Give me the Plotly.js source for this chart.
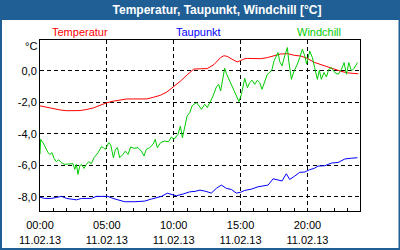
<!DOCTYPE html>
<html>
<head>
<meta charset="utf-8">
<script src="https://cdn.plot.ly/plotly-3.0.1.min.js"></script>
<style>html,body{margin:0;padding:0;background:#fff;}#chart{width:400px;height:250px;}</style>
</head>
<body>
<div id="chart"></div>
<script>
// ---- data (hours after 11.02.13 00:00, values in °C) ----
const tempHours = [0.0,0.5,1.0,1.5,2.0,2.5,3.0,3.5,4.0,4.5,5.0,5.5,6.0,6.5,7.0,7.5,8.0,8.5,9.0,9.5,10.0,10.5,11.0,11.5,12.0,12.5,13.0,13.5,13.75,14.0,14.5,14.75,15.0,15.25,15.5,16.0,16.5,17.0,17.5,18.0,18.5,19.0,19.5,20.0,20.5,21.0,21.5,22.0,22.5,23.0,23.5,23.8];
const tempValues = [-2.22,-2.32,-2.40,-2.48,-2.53,-2.53,-2.52,-2.45,-2.35,-2.18,-2.02,-1.92,-1.85,-1.78,-1.78,-1.78,-1.78,-1.67,-1.55,-1.33,-1.02,-0.65,-0.25,0.12,0.14,0.15,0.40,0.85,0.97,0.93,0.68,0.58,0.66,0.76,0.80,0.80,0.78,0.85,0.95,1.08,1.10,1.00,0.95,0.80,0.55,0.40,0.28,0.12,-0.02,-0.12,-0.18,-0.18];

const dewHours = [0.0,0.35,0.85,1.35,1.6,2.0,2.4,2.72,3.1,3.5,3.84,4.21,5.08,5.46,5.96,6.33,7.08,7.83,8.33,9.08,9.52,9.83,10.2,10.7,11.2,11.6,11.96,12.4,12.81,13.19,13.56,13.94,14.31,14.68,15.0,15.31,15.8,16.3,16.8,17.06,17.43,17.68,17.95,18.1,18.42,18.67,19.05,19.42,19.8,20.17,20.5,20.8,21.3,21.8,22.3,22.8,23.3,23.74];
const dewValues = [-8.03,-8.11,-8.11,-8.03,-7.98,-8.11,-8.15,-8.20,-8.11,-8.13,-8.11,-7.98,-7.98,-8.11,-8.22,-8.32,-8.32,-8.28,-8.15,-7.98,-7.78,-7.86,-7.94,-7.83,-7.69,-7.66,-7.58,-7.66,-7.77,-7.47,-7.26,-7.47,-7.54,-7.77,-7.72,-7.60,-7.52,-7.37,-7.30,-7.26,-6.86,-6.92,-6.97,-7.00,-6.54,-6.90,-6.69,-6.45,-6.43,-6.28,-6.20,-6.05,-6.03,-5.86,-5.82,-5.60,-5.55,-5.52];

const windHours = [0.0,0.05,0.3,0.45,0.6,0.75,0.9,1.05,1.22,1.4,1.6,1.85,2.22,2.47,2.6,2.72,2.84,2.97,3.09,3.29,3.47,3.64,3.84,4.04,4.34,4.59,4.74,4.89,5.14,5.29,5.49,5.64,5.79,5.96,6.2,6.38,6.58,6.78,7.03,7.33,7.58,7.78,7.95,8.2,8.45,8.62,8.77,9.02,9.32,9.62,9.82,10.02,10.32,10.5,10.65,10.82,11.0,11.2,11.37,11.52,11.7,11.95,12.07,12.32,12.51,12.76,12.94,13.19,13.36,13.51,13.69,13.81,13.94,14.18,14.44,14.69,14.88,15.06,15.18,15.31,15.51,15.68,15.86,16.06,16.26,16.43,16.6,16.8,17.0,17.18,17.35,17.5,17.68,17.8,17.93,18.1,18.3,18.5,18.6,18.8,19.0,19.25,19.42,19.62,19.8,19.94,20.17,20.37,20.54,20.74,20.89,21.04,21.24,21.42,21.59,21.79,22.04,22.3,22.54,22.74,22.92,23.09,23.29,23.49,23.74];
const windValues = [-5.30,-4.35,-4.67,-4.99,-5.20,-5.31,-5.20,-5.56,-5.77,-5.65,-5.84,-5.94,-5.94,-5.90,-6.26,-5.94,-6.58,-6.05,-5.94,-6.20,-5.94,-5.77,-5.90,-5.52,-5.20,-4.82,-4.88,-4.99,-4.56,-4.71,-5.52,-4.99,-4.88,-5.52,-5.31,-5.10,-5.31,-4.84,-4.92,-4.88,-5.10,-5.41,-4.99,-4.88,-4.67,-4.35,-4.88,-4.56,-4.46,-4.50,-4.20,-4.35,-4.03,-3.50,-4.25,-3.61,-2.87,-2.65,-2.23,-2.12,-2.02,-2.29,-2.44,-2.12,-2.33,-1.91,-1.59,-1.02,-0.85,-1.27,-0.32,0.17,-0.17,-0.64,-1.06,-1.59,-1.95,-1.49,-1.06,-0.47,-1.06,-0.74,-0.59,-0.85,-0.59,-0.74,-1.17,-0.64,-0.21,-0.10,0.10,0.64,0.96,1.17,0.59,0.32,0.96,1.49,0.64,-0.53,0.00,0.43,0.85,1.38,0.96,0.43,1.27,0.85,0.21,-0.53,0.04,-0.53,-0.10,-0.38,0.10,0.21,-0.10,-0.21,0.10,0.53,-0.21,0.53,0.00,0.17,0.53];

const seriesNames = ["Temperatur","Taupunkt","Windchill"];
const xTickHours = [0,5,10,15,20];
const xTickLabels = ["00:00<br>11.02.13","05:00<br>11.02.13","10:00<br>11.02.13","15:00<br>11.02.13","20:00<br>11.02.13"];
const yTickValues = [0,-2,-4,-6,-8];
const yTickLabels = ["0,0","-2,0","-4,0","-6,0","-8,0"];
const chartTitle = "Temperatur, Taupunkt, Windchill [°C]";
const unitLabel = "°C";

// ---- layout helpers (pixel -> paper) ----
const L=40, R=360, T=40, B=211;
const px = x => (x-L)/(R-L);
const py = y => (B-y)/(B-T);
const FONT = "Liberation Sans, Arial, sans-serif";
const colors = ["#ff0000","#0000ff","#00cc00"];

const traces = [
  {x: tempHours, y: tempValues, name: seriesNames[0]},
  {x: dewHours, y: dewValues, name: seriesNames[1]},
  {x: windHours, y: windValues, name: seriesNames[2]}
].map((t,i)=>Object.assign(t,{type:'scatter',mode:'lines',line:{color:colors[i],width:1},hoverinfo:'skip'}));

const labelX = [80.3,198.7,318.8];
const annotations = seriesNames.map((n,i)=>({
  text:n, xref:'paper', yref:'paper', x:px(labelX[i]), y:py(32),
  xanchor:'center', yanchor:'middle', showarrow:false,
  font:{family:FONT,size:11,color:colors[i]}
}));
annotations.push({text:unitLabel, xref:'paper', yref:'paper', x:px(30.5), y:py(46.5),
  xanchor:'center', yanchor:'middle', showarrow:false, font:{family:FONT,size:11,color:'#000'}});

const layout = {
  width:400, height:250,
  margin:{l:L, r:400-R, t:T, b:250-B, pad:0},
  paper_bgcolor:'#1f5f96', plot_bgcolor:'#ffffff',
  showlegend:false,
  title:{text:chartTitle, font:{family:FONT,size:12,color:'#ffffff',weight:'bold'},
         xref:'container', yref:'container', x:217/400, y:1-10/250, xanchor:'center', yanchor:'middle'},
  xaxis:{range:[0,23.93], tickvals:xTickHours, ticktext:xTickLabels,
         ticks:'inside', ticklen:3, tickcolor:'#000', ticklabelstandoff:4,
         minor:{dtick:1, tick0:0, ticks:'inside', ticklen:3, tickcolor:'#000', showgrid:false},
         showgrid:true, gridcolor:'#000', gridwidth:1, griddash:'4px,3px',
         showline:true, mirror:true, linecolor:'#000', linewidth:1, zeroline:false,
         tickfont:{family:FONT,size:11,color:'#000'}, fixedrange:true},
  yaxis:{range:[-8.91,1.97], tickvals:yTickValues, ticktext:yTickLabels, ticks:'',
         showgrid:true, gridcolor:'#000', gridwidth:1, griddash:'4px,3px',
         showline:true, mirror:true, linecolor:'#000', linewidth:1, zeroline:false,
         tickfont:{family:FONT,size:11,color:'#000'}, fixedrange:true},
  shapes:[{type:'rect', xref:'paper', yref:'paper', x0:px(2), x1:px(398.5), y0:py(248), y1:py(20),
           fillcolor:'#ffffff', line:{width:0}, layer:'below'}],
  annotations:annotations
};
Plotly.newPlot('chart', traces, layout, {staticPlot:true, displayModeBar:false});
</script>
</body>
</html>
